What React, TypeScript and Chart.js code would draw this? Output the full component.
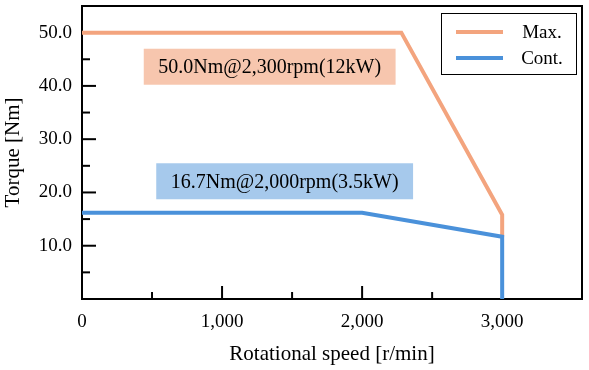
import React, { useEffect, useRef } from 'react';
import { Chart, registerables } from 'chart.js';

Chart.register(...registerables);

// ---- data ----
const seriesLabels = ['Max.', 'Cont.'];
const seriesColors = ['#F3A47E', '#4A91DA'];
const maxSpeed = [0, 2280, 3000, 3000];
const maxTorque = [50, 50, 15.8, 11.7];
const contSpeed = [0, 2000, 3000, 3000];
const contTorque = [16.2, 16.2, 11.7, 0];

const xMin = 0;
const xMax = 3570;
const xTickValues = [0, 500, 1000, 1500, 2000, 2500, 3000];
const xLabelEvery = 1000;
const yMin = 0;
const yMax = 55;
const yTickValues = [0, 5, 10, 15, 20, 25, 30, 35, 40, 45, 50];
const yLabelEvery = 10;

const xTitle = 'Rotational speed [r/min]';
const yTitle = 'Torque [Nm]';

const noteTexts = ['50.0Nm@2,300rpm(12kW)', '16.7Nm@2,000rpm(3.5kW)'];
const noteSpeed = [1340, 1447];
const noteTorque = [43.6, 22.1];
const noteFills = ['#F7C6AE', '#A6C9EC'];

const FONT = "'Liberation Serif', 'Times New Roman', serif";

const framePlugin = {
  id: 'frameTicks',
  beforeDatasetsDraw(chart: any) {
    const { ctx, chartArea: a, scales } = chart;
    const xs = scales.x;
    const ys = scales.y;
    ctx.save();
    ctx.strokeStyle = '#000';
    ctx.lineWidth = 2;
    ctx.lineCap = 'butt';
    // inward ticks
    xs.ticks.forEach((t: any) => {
      const v = t.value;
      if (v <= xMin) return;
      const px = xs.getPixelForValue(v);
      const len = v % xLabelEvery === 0 ? 13 : 7;
      ctx.beginPath();
      ctx.moveTo(px, a.bottom);
      ctx.lineTo(px, a.bottom - len);
      ctx.stroke();
    });
    ys.ticks.forEach((t: any) => {
      const v = t.value;
      if (v <= yMin) return;
      const py = ys.getPixelForValue(v);
      const len = v % yLabelEvery === 0 ? 14 : 8;
      ctx.beginPath();
      ctx.moveTo(a.left, py);
      ctx.lineTo(a.left + len, py);
      ctx.stroke();
    });
    ctx.strokeRect(a.left, a.top, a.right - a.left, a.bottom - a.top);
    ctx.restore();
  },
  afterDatasetsDraw(chart: any) {
    const { ctx, scales } = chart;
    ctx.save();
    ctx.font = `20px ${FONT}`;
    ctx.textAlign = 'center';
    ctx.textBaseline = 'middle';
    noteTexts.forEach((txt, i) => {
      const cx = scales.x.getPixelForValue(noteSpeed[i]);
      const cy = scales.y.getPixelForValue(noteTorque[i]);
      const w = ctx.measureText(txt).width + 29;
      const h = 36;
      ctx.fillStyle = noteFills[i];
      ctx.fillRect(cx - w / 2, cy - h / 2, w, h);
      ctx.fillStyle = '#000';
      ctx.fillText(txt, cx, cy + 1);
    });
    ctx.restore();
  },
  afterDraw(chart: any) {
    const { ctx, chartArea: a } = chart;
    const bw = 135;
    const bh = 61;
    const bx = a.right - 6 - bw;
    const by = a.top + 7;
    ctx.save();
    ctx.fillStyle = '#fff';
    ctx.fillRect(bx, by, bw, bh);
    ctx.strokeStyle = '#000';
    ctx.lineWidth = 1;
    ctx.strokeRect(bx + 0.5, by + 0.5, bw, bh);
    ctx.font = `19px ${FONT}`;
    ctx.textAlign = 'center';
    ctx.textBaseline = 'middle';
    chart.data.datasets.forEach((ds: any, i: number) => {
      const ly = by + 19 + i * 26;
      ctx.strokeStyle = ds.borderColor;
      ctx.lineWidth = 4;
      ctx.beginPath();
      ctx.moveTo(bx + 15, ly);
      ctx.lineTo(bx + 62, ly);
      ctx.stroke();
      ctx.fillStyle = '#000';
      ctx.fillText(ds.label, bx + 101, ly + 1);
    });
    ctx.restore();
  },
};

export default function App() {
  const ref = useRef<HTMLCanvasElement>(null);
  useEffect(() => {
    document.body.style.margin = '0';
    const canvas = ref.current!;
    const chart = new Chart(canvas, {
      type: 'scatter',
      data: {
        datasets: [
          {
            label: seriesLabels[0],
            data: maxSpeed.map((x, i) => ({ x, y: maxTorque[i] })),
            borderColor: seriesColors[0],
            backgroundColor: seriesColors[0],
            showLine: true,
            borderWidth: 4,
            pointRadius: 0,
            order: 1,
          },
          {
            label: seriesLabels[1],
            data: contSpeed.map((x, i) => ({ x, y: contTorque[i] })),
            borderColor: seriesColors[1],
            backgroundColor: seriesColors[1],
            showLine: true,
            borderWidth: 4,
            pointRadius: 0,
            order: 0,
          },
        ],
      },
      options: {
        responsive: false,
        animation: false,
        devicePixelRatio: 1,
        layout: { padding: { top: 6, right: 7, left: 0, bottom: 0 } },
        plugins: { legend: { display: false }, tooltip: { enabled: false } },
        scales: {
          x: {
            type: 'linear',
            min: xMin,
            max: xMax,
            grid: { display: false, drawTicks: false },
            border: { display: false },
            afterBuildTicks: (s: any) => {
              s.ticks = xTickValues.map((value) => ({ value }));
            },
            ticks: {
              autoSkip: false,
              maxRotation: 0,
              padding: 12,
              color: '#000',
              font: { family: FONT, size: 19 },
              callback: (v: any) =>
                v % xLabelEvery === 0 ? Number(v).toLocaleString('en-US') : '',
            },
            title: {
              display: true,
              text: xTitle,
              color: '#000',
              font: { family: FONT, size: 21 },
              padding: { top: 0, bottom: 3 },
            },
            afterFit: (s: any) => {
              s.height = 370 - 299;
              s.paddingLeft = 0;
              s.paddingRight = 0;
            },
          },
          y: {
            type: 'linear',
            min: yMin,
            max: yMax,
            grid: { display: false, drawTicks: false },
            border: { display: false },
            afterBuildTicks: (s: any) => {
              s.ticks = yTickValues.map((value) => ({ value }));
            },
            ticks: {
              autoSkip: false,
              padding: 10,
              color: '#000',
              font: { family: FONT, size: 19 },
              callback: (v: any) =>
                v % yLabelEvery === 0 && v > 0 ? Number(v).toFixed(1) : '',
            },
            title: {
              display: true,
              text: yTitle,
              color: '#000',
              font: { family: FONT, size: 21 },
              padding: { top: 1, bottom: 0 },
            },
            afterFit: (s: any) => {
              s.width = 82;
              s.paddingTop = 0;
              s.paddingBottom = 0;
            },
          },
        },
      },
      plugins: [framePlugin],
    } as any);
    return () => chart.destroy();
  }, []);
  return <canvas ref={ref} width={589} height={370} style={{ display: 'block' }} />;
}
